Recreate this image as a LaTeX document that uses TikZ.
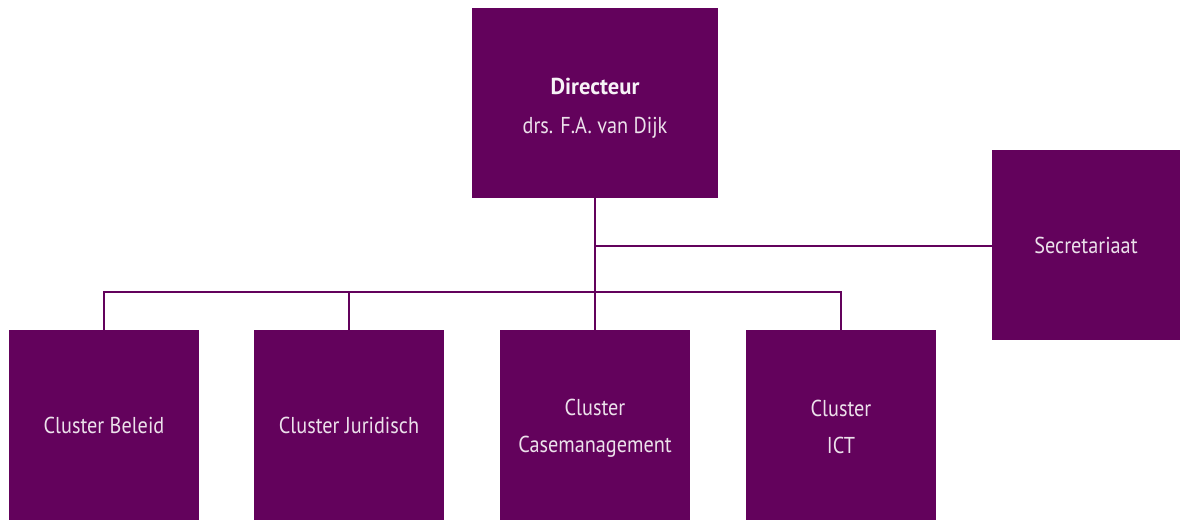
\documentclass[tikz,border=0pt]{standalone}
\usepackage{fontspec}
\setmainfont{PT Sans}[FakeStretch=0.88,BoldFeatures={FakeStretch=0.98}]
\definecolor{plum}{RGB}{99,2,92}
\begin{document}
\begin{tikzpicture}[x=1pt,y=-1pt,
  box/.style={fill=plum,draw=none,minimum width=190pt,minimum height=190pt,inner sep=0pt,text=white!88!plum,font=\fontsize{23}{37}\selectfont,align=center},
  boxtext/.style={inner sep=0pt,text=white!88!plum,font=\fontsize{23}{37}\selectfont,align=center},
  link/.style={draw=plum,line width=2.4pt}]
\useasboundingbox (0,0) rectangle (1180,520);
\node[box,minimum width=246pt] (dir) at (595,103) {};
\node[text=white!95!plum,font=\fontsize{23}{24}\bfseries\selectfont,anchor=base] (dirt) at (595,94) {Directeur};
\node[text=white!88!plum,font=\fontsize{23}{24}\selectfont,anchor=base] (dirn) at (595,133) {drs. F.A. van Dijk};
\node[box,minimum width=188pt] (sec) at (1086,245) {Secretariaat};
\node[box] (c1) at (104,425) {Cluster Beleid};
\node[box] (c2) at (349,425) {Cluster Juridisch};
\node[box] (c3) at (595,425) {};
\node[box] (c4) at (841,425) {};
\node[boxtext] (c3t) at (595,428) {Cluster\\Casemanagement};
\node[boxtext] (c4t) at (841,427) {Cluster\\ICT};
\coordinate (hub) at (595,246);
\coordinate (bar) at (595,292);
\draw[link] (dir.south) -- (c3.north);
\draw[link] (hub) -- (sec.west |- hub);
\draw[link] (c1.north) |- (bar) -| (c4.north);
\draw[link] (c2.north) -- (c2.north |- bar);
\end{tikzpicture}
\end{document}
